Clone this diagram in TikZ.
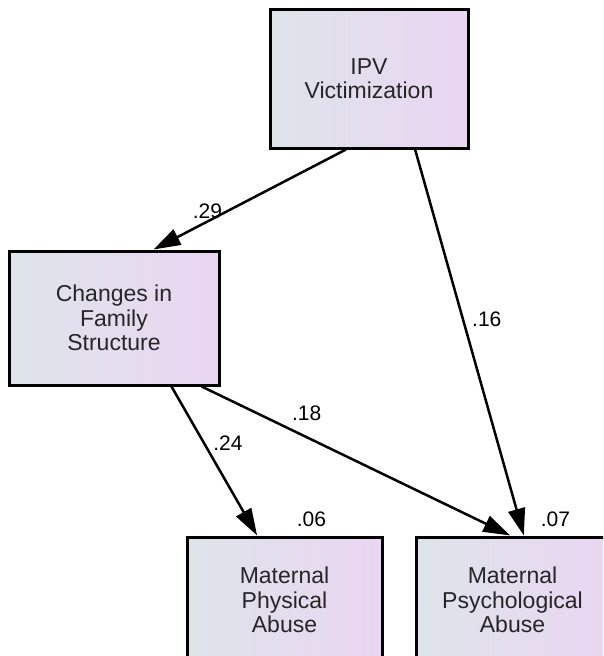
\documentclass[tikz,border=0pt]{standalone}
\usepackage{fontspec}
\setmainfont{Liberation Sans}
\usetikzlibrary{arrows.meta, positioning}
\definecolor{boxleft}{RGB}{222,228,234}
\definecolor{boxright}{RGB}{234,214,242}

\begin{document}
\begin{tikzpicture}[
    x=1pt, y=-1pt,
    var/.style={rectangle, draw=black, line width=3pt,
                left color=boxleft, right color=boxright,
                align=center, text=black!85,
                font=\fontsize{23}{24.5}\selectfont},
    effect/.style={-{Triangle[length=27pt, width=17pt]}, line width=2.5pt},
    coef/.style={font=\fontsize{21}{22}\selectfont, inner sep=2pt}
]
    \useasboundingbox (0,0) rectangle (603,656);
    \clip (0,0) rectangle (603,656);

    % Variables
    \node[var, minimum width=198pt, minimum height=139pt] (ipv) at (369,78.5)
        {IPV\\Victimization};
    \node[var, minimum width=210pt, minimum height=134pt] (fam) at (114,318)
        {Changes in\\Family\\Structure};
    \node[var, minimum width=195pt, minimum height=126pt,
          label={[coef, xshift=27pt, label distance=7pt]above:.06}] (phys) at (284.5,600)
        {Maternal\\Physical\\Abuse};
    \node[var, minimum width=193pt, minimum height=126pt,
          label={[coef, xshift=43pt, label distance=7pt]above:.07}] (psych) at (512.5,600)
        {Maternal\\Psychological\\Abuse};

    % Paths
    \draw[effect] (ipv.252) -- (fam.60) node[coef, pos=0.72, above] {.29};
    \draw[effect] (ipv.303) -- (psych.80) node[coef, pos=0.44, right=6pt] {.16};
    \draw[effect] (fam.310) -- (phys.113) node[coef, pos=0.45, above right] {.24};
    \draw[effect] (fam.322) -- (psych.92) node[coef, pos=0.34, above=13pt] {.18};

\end{tikzpicture}
\end{document}
